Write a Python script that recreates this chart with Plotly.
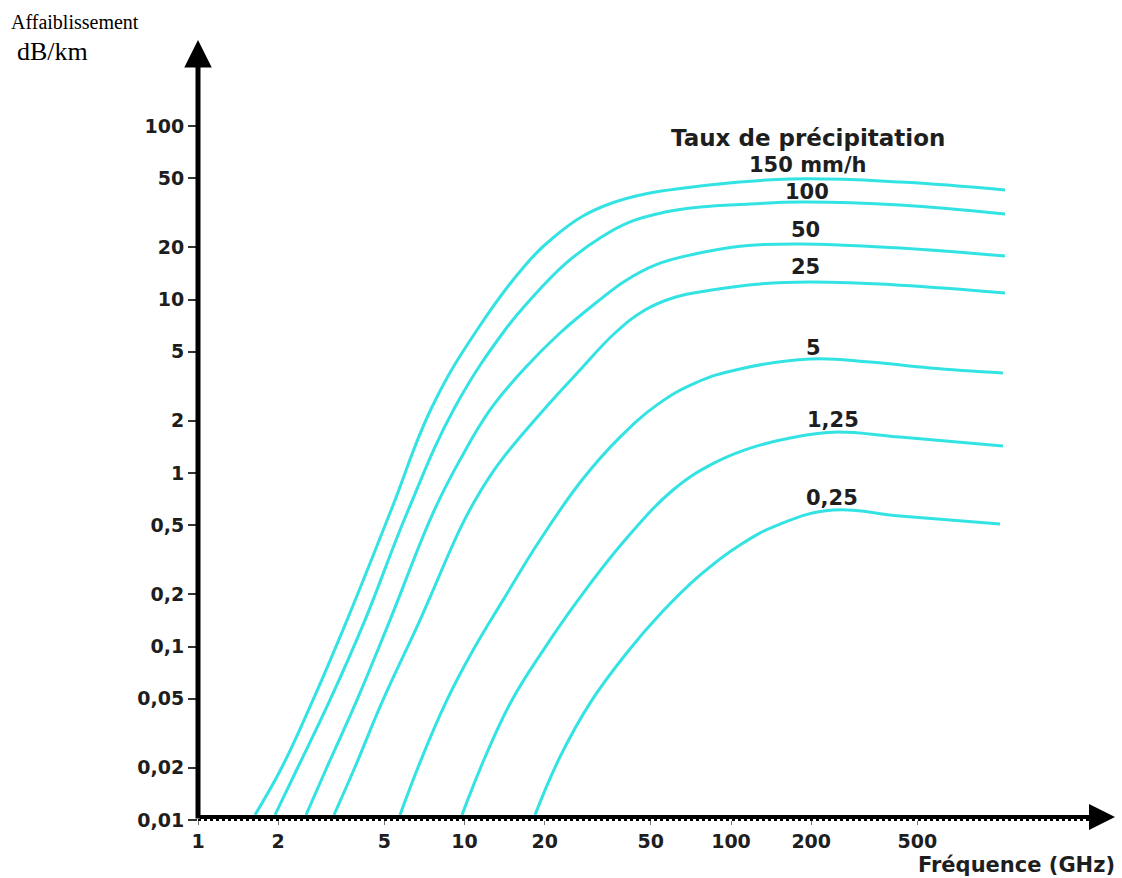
import plotly.graph_objects as go

# ---- data (frequency in GHz, attenuation in dB/km) ----
rain_rates = ["150 mm/h", "100", "50", "25", "5", "1,25", "0,25"]

f_150 = [1.636, 2.067, 2.701, 3.624, 5.253, 7.551, 11.14, 17.16, 21.86, 27.84, 35.77, 47.57, 76.50, 166.5, 430.6, 1067]
a_150 = [0.0107, 0.0202, 0.0492, 0.142, 0.588, 2.40, 6.67, 16.2, 23.2, 30.3, 36.0, 40.6, 45.1, 49.5, 47.6, 42.8]

f_100 = [1.945, 2.373, 3.129, 4.233, 6.085, 9.213, 14.19, 17.61, 24.04, 32.24, 41.78, 56.55, 76.50, 117.8, 181.5, 430.6, 1067]
a_100 = [0.0107, 0.0202, 0.0492, 0.142, 0.588, 2.40, 6.67, 9.93, 16.2, 22.6, 28.0, 31.9, 34.1, 35.5, 36.5, 35.1, 31.1]

f_50 = [2.543, 3.049, 3.951, 5.253, 7.617, 9.618, 12.47, 16.87, 22.82, 31.42, 40.03, 51.86, 73.30, 108.1, 181.5, 430.6, 1067]
a_50 = [0.0107, 0.0202, 0.0492, 0.142, 0.588, 1.19, 2.31, 4.03, 6.41, 9.67, 12.8, 15.8, 18.3, 20.3, 20.9, 19.8, 17.8]

f_25 = [3.238, 3.883, 4.946, 6.808, 9.786, 11.43, 13.59, 19.20, 27.13, 36.71, 47.57, 61.64, 83.41, 128.5, 197.9, 430.6, 1067]
a_25 = [0.0107, 0.0202, 0.0492, 0.142, 0.502, 0.777, 1.16, 2.19, 3.92, 6.41, 8.70, 10.3, 11.3, 12.3, 12.6, 12.1, 10.9]

f_5 = [5.728, 6.868, 8.597, 10.67, 13.95, 19.20, 27.60, 38.33, 52.77, 73.30, 108.1, 197.9, 332.3, 558.1, 1048]
a_5 = [0.0107, 0.0222, 0.0492, 0.0929, 0.185, 0.411, 0.911, 1.61, 2.47, 3.30, 3.98, 4.54, 4.36, 4.03, 3.77]

f_125 = [9.786, 12.04, 15.08, 19.54, 26.66, 40.03, 60.58, 83.41, 112.9, 166.5, 241.4, 430.6, 1048]
a_125 = [0.0107, 0.0237, 0.0492, 0.0929, 0.185, 0.411, 0.798, 1.11, 1.36, 1.59, 1.72, 1.61, 1.43]

f_025 = [18.39, 22.82, 29.58, 40.03, 55.10, 76.50, 108.1, 152.7, 241.4, 430.6, 1022]
a_025 = [0.0107, 0.0231, 0.0472, 0.0893, 0.158, 0.258, 0.385, 0.508, 0.612, 0.565, 0.508]

x_ticks = [1, 2, 5, 10, 20, 50, 100, 200, 500]
x_tick_text = ["1", "2", "5", "10", "20", "50", "100", "200", "500"]
y_ticks = [0.01, 0.02, 0.05, 0.1, 0.2, 0.5, 1, 2, 5, 10, 20, 50, 100]
y_tick_text = ["0,01", "0,02", "0,05", "0,1", "0,2", "0,5", "1", "2", "5", "10", "20", "50", "100"]

series = [(f_150, a_150), (f_100, a_100), (f_50, a_50), (f_25, a_25),
          (f_5, a_5), (f_125, a_125), (f_025, a_025)]

# ---- layout geometry ----
W, H = 1122, 878
L, R, T, B = 198, 7, 40, 58
PW, PH = W - L - R, H - T - B
X_DEC = 266.5   # px per decade (x)
Y_DEC = 173.5   # px per decade (y)
x_range = [0, PW / X_DEC]
y_range = [-2, -2 + PH / Y_DEC]


def px(x):
    return (x - L) / PW


def py(y):
    return (H - B - y) / PH


CYAN = "#33E3E3"
TXT = "#1e1e1e"
BOLD = dict(family="DejaVu Sans", size=20, color=TXT, weight="bold")

fig = go.Figure()
for (fx, ay), name in zip(series, rain_rates):
    fig.add_trace(go.Scatter(
        x=fx, y=ay, mode="lines", name=name,
        line=dict(color=CYAN, width=3, shape="spline", smoothing=1.2),
        hoverinfo="skip", showlegend=False))

annotations = []
# axes drawn as arrows
annotations.append(dict(x=0, y=1, xref="paper", yref="paper", ax=0, ay=PH,
                        axref="pixel", ayref="pixel", text="", showarrow=True,
                        arrowhead=2, arrowsize=1.1, arrowwidth=5, arrowcolor="black"))
annotations.append(dict(x=1, y=0, xref="paper", yref="paper", ax=-PW, ay=0,
                        axref="pixel", ayref="pixel", text="", showarrow=True,
                        arrowhead=2, arrowsize=1.3, arrowwidth=4, arrowcolor="black",
                        yshift=3))

# curve labels
label_pos = [(808, 165), (807, 192), (805, 230), (805, 267), (813, 348), (833, 420), (832, 498)]
for txt, (lx, ly) in zip(rain_rates, label_pos):
    annotations.append(dict(x=px(lx), y=py(ly), xref="paper", yref="paper", text=txt,
                            showarrow=False, xanchor="center", yanchor="middle",
                            font=dict(BOLD, size=21)))
annotations.append(dict(x=px(808), y=py(138), xref="paper", yref="paper",
                        text="Taux de précipitation", showarrow=False,
                        xanchor="center", yanchor="middle", font=dict(BOLD, size=23)))
annotations.append(dict(x=px(1117), y=py(865), xref="paper", yref="paper",
                        text="Fréquence (GHz)", showarrow=False,
                        xanchor="right", yanchor="middle", font=dict(BOLD, size=21)))
annotations.append(dict(x=px(9), y=py(22), xref="paper", yref="paper",
                        text="Affaiblissement", showarrow=False,
                        xanchor="left", yanchor="middle",
                        font=dict(family="Liberation Serif", size=20, color="black")))
annotations.append(dict(x=px(15), y=py(52), xref="paper", yref="paper",
                        text="dB/km", showarrow=False,
                        xanchor="left", yanchor="middle",
                        font=dict(family="Liberation Serif", size=26, color="black")))

shapes = [dict(type="line", xref="paper", yref="paper", x0=0, x1=0.985, y0=0, y1=0,
               line=dict(color="black", width=2, dash="dot"))]

fig.update_layout(
    width=W, height=H,
    margin=dict(l=L, r=R, t=T, b=B),
    paper_bgcolor="white", plot_bgcolor="white",
    annotations=annotations, shapes=shapes,
    xaxis=dict(type="log", range=x_range, tickvals=x_ticks, ticktext=x_tick_text,
               showgrid=False, zeroline=False, showline=False,
               ticks="outside", ticklen=4, tickwidth=1, tickcolor="#777",
               tickfont=dict(BOLD, size=19)),
    yaxis=dict(type="log", range=y_range, tickvals=y_ticks, ticktext=y_tick_text,
               showgrid=False, zeroline=False, showline=False,
               ticks="outside", ticklen=9, tickwidth=2, tickcolor="#333",
               tickfont=dict(BOLD, size=19)),
)

fig.write_html("out.html")
